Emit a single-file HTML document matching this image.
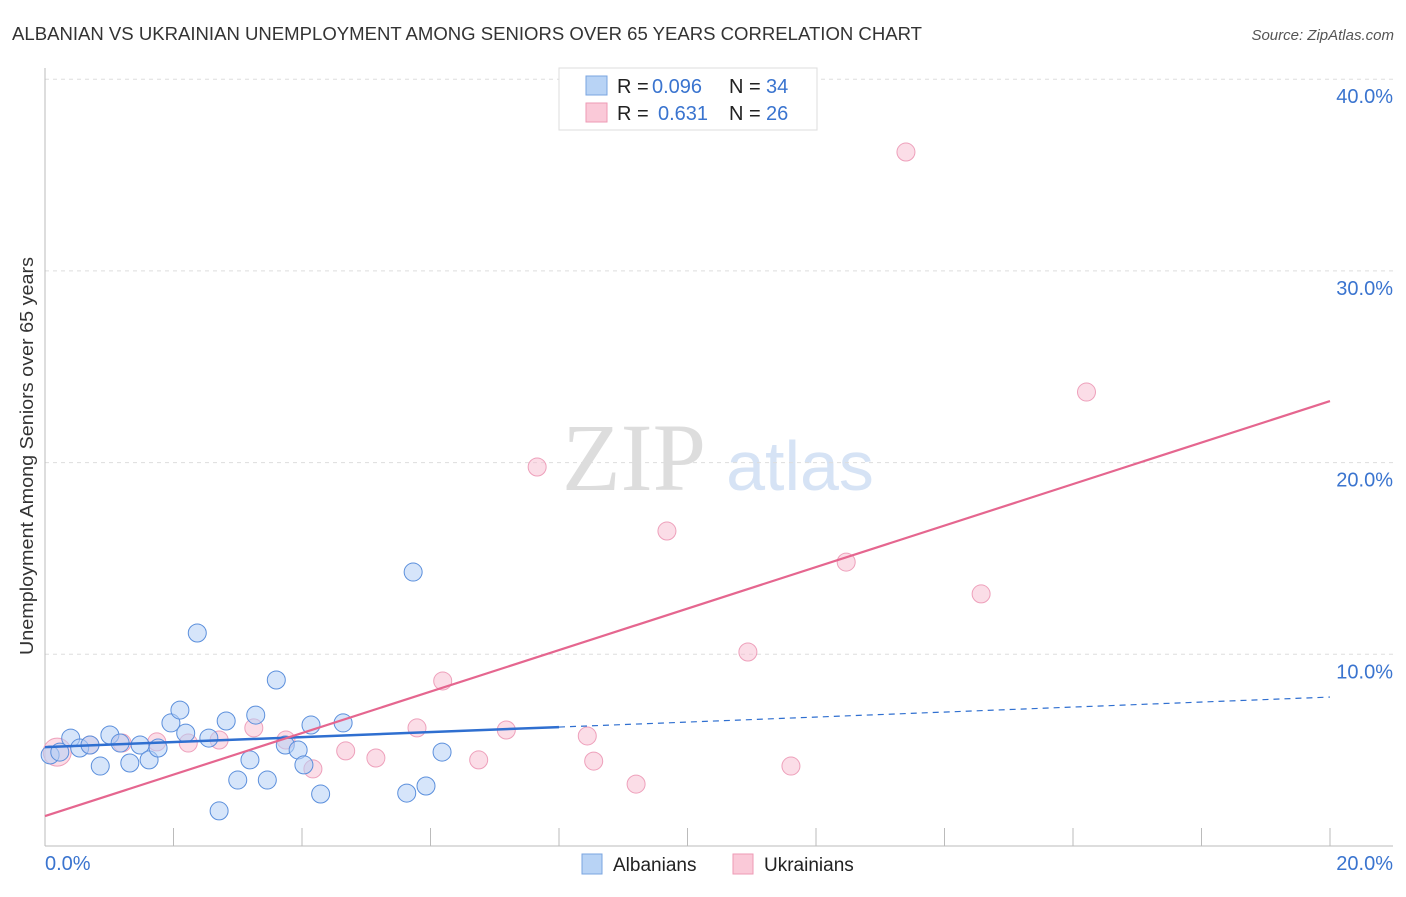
<!DOCTYPE html>
<html><head><meta charset="utf-8"><style>
body{margin:0;background:#fff;font-family:"Liberation Sans",sans-serif;}
</style></head><body>
<svg width="1406" height="892" xmlns="http://www.w3.org/2000/svg" font-family="Liberation Sans, sans-serif">
<text x="12" y="40" font-size="18" fill="#333" textLength="910" lengthAdjust="spacingAndGlyphs">ALBANIAN VS UKRAINIAN UNEMPLOYMENT AMONG SENIORS OVER 65 YEARS CORRELATION CHART</text>
<text x="1394" y="40" font-size="15" fill="#555" font-style="italic" text-anchor="end">Source: ZipAtlas.com</text>
<g>
<text x="634" y="490" font-size="96" fill="#ddd" text-anchor="middle" font-family="Liberation Serif, serif">ZIP</text>
<text x="800" y="490" font-size="70" fill="#d6e3f5" text-anchor="middle">atlas</text>
</g>
<g id="grid"></g>
<g id="axes"></g>
<text transform="translate(33,456) rotate(-90)" font-size="18" fill="#333" text-anchor="middle" textLength="398" lengthAdjust="spacingAndGlyphs">Unemployment Among Seniors over 65 years</text>
<g id="marks"></g>
<g>
<rect x="559" y="68" width="258" height="62" fill="#fff" stroke="#ddd"/>
<rect x="586" y="76" width="21" height="19" fill="#b8d3f5" stroke="#7aa5e0"/>
<rect x="586" y="103" width="21" height="19" fill="#fac9d8" stroke="#ee9ab5"/>
<g font-size="20">
<text x="617" y="93" fill="#222">R =</text>
<text x="652" y="93" fill="#3a74cf">0.096</text>
<text x="729" y="93" fill="#222">N =</text>
<text x="766" y="93" fill="#3a74cf">34</text>
<text x="617" y="120" fill="#222">R =</text>
<text x="658" y="120" fill="#3a74cf">0.631</text>
<text x="729" y="120" fill="#222">N =</text>
<text x="766" y="120" fill="#3a74cf">26</text>
</g>
</g>
<g>
<rect x="582" y="854" width="20" height="20" fill="#b8d3f5" stroke="#7aa5e0"/>
<text x="613" y="871" font-size="19" fill="#222">Albanians</text>
<rect x="733" y="854" width="20" height="20" fill="#fac9d8" stroke="#ee9ab5"/>
<text x="764" y="871" font-size="19" fill="#222">Ukrainians</text>
</g>
</svg>
<script>
const yTicks=[10,20,30,40];
const yTickLabels=["10.0%","20.0%","30.0%","40.0%"];
const xTickVals=[0,2,4,6,8,10,12,14,16,18,20];
const blueX=[0.08,0.23,0.40,0.54,0.70,0.86,1.01,1.17,1.32,1.48,1.62,1.76,1.96,2.10,2.19,2.37,2.55,2.71,2.82,3.00,3.19,3.28,3.46,3.60,3.74,3.94,4.03,4.14,4.29,4.64,5.63,5.73,5.93,6.18];
const blueY=[4.75,4.90,5.63,5.11,5.27,4.17,5.79,5.37,4.33,5.27,4.49,5.11,6.42,7.09,5.89,11.11,5.63,1.83,6.52,3.44,4.49,6.83,3.44,8.66,5.27,5.01,4.23,6.31,2.71,6.42,2.76,14.29,3.13,4.90];
const pinkX=[0.19,0.70,1.20,1.74,2.23,2.71,3.25,3.75,4.17,4.68,5.15,5.79,6.19,6.75,7.18,7.66,8.44,8.54,9.20,9.68,10.94,11.61,12.47,13.40,14.57,16.21];
const pinkY=[4.90,5.27,5.37,5.43,5.37,5.53,6.16,5.53,4.02,4.96,4.59,6.16,8.61,4.49,6.05,19.77,5.74,4.43,3.23,16.43,10.12,4.17,14.81,36.20,13.15,23.68];
const blueLine=[5.16,7.77];
const pinkLine=[1.56,23.21];
const NS="http://www.w3.org/2000/svg";
const X=v=>45+v/20*1285, Y=v=>846-v*19.17;
function mk(t,a,p){const e=document.createElementNS(NS,t);for(const k in a)e.setAttribute(k,a[k]);p.appendChild(e);return e;}
const grid=document.getElementById('grid'),axes=document.getElementById('axes'),marks=document.getElementById('marks');
yTicks.forEach((v,i)=>{
 const l=mk('line',{x1:45,x2:1393,y1:Y(v),y2:Y(v),stroke:'#ddd','stroke-dasharray':'4,4'},grid);
 
 
 const t=mk('text',{x:1393,y:Y(v)+24,'font-size':20,fill:'#3a74cf','text-anchor':'end'},axes);
 t.textContent=yTickLabels[i];
 
 
});
const ya=mk('line',{x1:45,x2:45,y1:68,y2:846,stroke:'#bbb'},axes);


const xa=mk('line',{x1:45,x2:1393,y1:846,y2:846,stroke:'#bbb'},axes);


xTickVals.forEach(v=>{
 const t=mk('line',{x1:X(v),x2:X(v),y1:828,y2:846,stroke:'#bbb'},axes);
 
 
});
[[0,"0.0%",'start',45],[20,"20.0%",'end',1393]].forEach(a=>{
 const t=mk('text',{x:a[3],y:870,'font-size':20,fill:'#3a74cf','text-anchor':a[2]},axes);
 t.textContent=a[1];
 
 
});
pinkX.forEach((x,i)=>{
 const c=mk('circle',{cx:X(x),cy:Y(pinkY[i]),r:i===0?14:9,fill:'rgba(248,187,208,0.5)',stroke:'#eea0bb','stroke-width':1},marks);
 
 
});
blueX.forEach((x,i)=>{
 const c=mk('circle',{cx:X(x),cy:Y(blueY[i]),r:9,fill:'rgba(180,208,245,0.55)',stroke:'#5b8fdc','stroke-width':1},marks);
 
 
});
const bAt=x=>blueLine[0]+(blueLine[1]-blueLine[0])*x/20;
const b1=mk('line',{x1:X(0),y1:Y(bAt(0)),x2:X(8),y2:Y(bAt(8)),stroke:'#2f6fd0','stroke-width':2.5},marks);


const b2=mk('line',{x1:X(8),y1:Y(bAt(8)),x2:X(20),y2:Y(bAt(20)),stroke:'#2f6fd0','stroke-width':1.2,'stroke-dasharray':'6,5'},marks);


const p1=mk('line',{x1:X(0),y1:Y(pinkLine[0]),x2:X(20),y2:Y(pinkLine[1]),stroke:'#e5668f','stroke-width':2.2},marks);


</script>
</body></html>
